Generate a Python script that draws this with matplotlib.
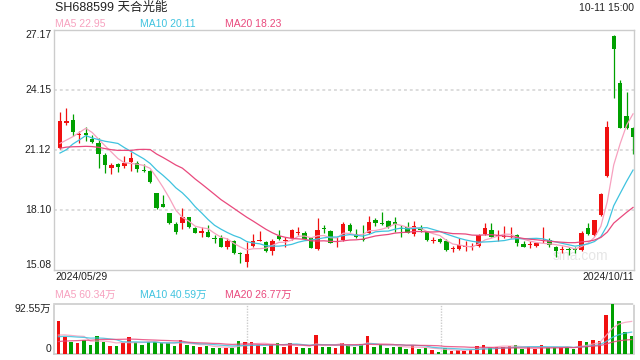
import numpy as np
import matplotlib
matplotlib.use("Agg")
import matplotlib.pyplot as plt

plt.rcParams['font.family'] = ['Liberation Sans', 'Noto Sans CJK SC', 'DejaVu Sans']

title = "SH688599 天合光能"
stamp = "10-11 15:00"
date_first = "2024/05/29"
date_last = "2024/10/11"

# daily candles, 2024/05/29 .. 2024/10/11
opens = [21.21, 22.50, 22.64, 21.90, 22.00, 21.68, 21.46, 20.87, 20.24, 20.42,
         20.34, 20.52, 20.45, 20.12, 20.07, 18.94, 18.39, 17.93, 17.40, 17.43,
         17.73, 17.21, 16.96, 17.01, 16.71, 16.71, 16.25, 16.54, 15.94, 15.50,
         16.29, 16.54, 16.51, 16.05, 16.79, 16.52, 16.67, 16.96, 16.93, 16.67,
         16.14, 17.21, 17.04, 16.51, 16.59, 17.35, 16.88, 16.62, 16.93, 17.60,
         17.46, 17.55, 17.52, 17.21, 17.26, 16.89, 17.21, 17.01, 16.54, 16.62,
         16.54, 16.12, 16.14, 16.25, 16.25, 16.29, 16.88, 17.09, 16.79, 16.72,
         16.74, 16.84, 16.39, 16.34, 16.29, 16.54, 16.59, 16.22, 16.09, 16.12,
         16.12, 16.09, 17.21, 16.84, 17.85, 19.82, 26.87, 24.52, 22.84, 22.25]
highs = [23.06, 23.22, 22.94, 22.08, 22.30, 21.88, 21.71, 20.96, 20.49, 20.45,
         20.82, 21.04, 20.57, 20.42, 20.12, 18.96, 18.86, 17.97, 17.51, 18.19,
         17.77, 17.26, 17.26, 17.35, 16.84, 16.84, 16.67, 16.59, 16.00, 16.51,
         16.88, 17.04, 16.54, 16.62, 17.09, 16.76, 17.13, 17.26, 17.04, 16.76,
         17.72, 17.35, 17.09, 16.76, 17.51, 17.43, 17.13, 17.35, 17.80, 17.72,
         18.02, 17.60, 17.77, 17.35, 17.48, 17.55, 17.35, 17.04, 16.76, 16.67,
         16.62, 16.29, 16.67, 16.54, 16.46, 16.89, 17.46, 17.46, 17.09, 17.30,
         17.26, 16.89, 16.56, 16.54, 16.51, 17.26, 16.67, 16.29, 16.29, 16.25,
         16.25, 17.04, 17.46, 17.60, 18.96, 22.60, 26.92, 24.65, 24.06, 22.30]
lows = [21.16, 22.39, 21.85, 21.46, 21.60, 21.46, 20.24, 19.95, 19.92, 20.03,
        20.24, 20.07, 20.03, 20.03, 19.45, 18.17, 18.24, 17.38, 16.88, 17.13,
        17.18, 16.93, 16.76, 16.72, 16.46, 16.22, 16.12, 15.88, 15.42, 15.25,
        16.22, 16.52, 16.00, 15.84, 16.59, 16.25, 16.59, 16.84, 16.59, 16.17,
        16.09, 16.96, 16.42, 16.22, 16.54, 17.01, 16.67, 16.54, 16.88, 17.30,
        17.35, 17.18, 17.01, 16.76, 16.93, 16.81, 17.01, 16.56, 16.42, 16.46,
        16.04, 16.00, 16.09, 16.04, 16.09, 16.22, 16.82, 16.72, 16.54, 16.67,
        16.67, 16.29, 16.22, 16.17, 16.26, 16.46, 16.22, 15.72, 15.92, 15.84,
        15.92, 16.05, 16.84, 16.79, 17.80, 19.75, 23.73, 22.22, 22.18, 20.91]
closes = [22.59, 22.59, 22.05, 21.95, 21.90, 21.54, 20.91, 20.37, 20.37, 20.28,
          20.49, 20.74, 20.17, 20.07, 19.53, 18.22, 18.25, 17.43, 17.01, 17.77,
          17.26, 16.96, 17.04, 16.76, 16.64, 16.25, 16.54, 15.92, 15.87, 15.88,
          16.54, 16.57, 16.05, 16.56, 16.64, 16.59, 17.09, 17.01, 16.62, 16.20,
          17.09, 17.16, 16.46, 16.56, 17.40, 17.04, 16.76, 16.57, 17.52, 17.46,
          17.38, 17.26, 17.38, 17.16, 16.96, 17.30, 17.09, 16.59, 16.59, 16.51,
          16.09, 16.17, 16.34, 16.29, 16.30, 16.84, 17.21, 16.76, 16.84, 16.79,
          16.79, 16.46, 16.26, 16.39, 16.42, 16.59, 16.34, 16.05, 16.12, 16.09,
          16.09, 16.96, 16.89, 17.58, 18.89, 22.30, 26.20, 22.25, 22.22, 21.76]
# closes of the 19 sessions before the window (feed the moving averages)
prior_closes = [21.40, 21.70, 21.80, 21.60, 21.80, 21.65, 21.70, 21.45, 21.00, 20.40,
                20.90, 19.20, 19.90, 19.70, 22.74, 21.74, 21.20, 20.90, 20.85]

# volume in 万 lots
volumes = [61.1, 32.1, 22.8, 21.0, 25.9, 16.7, 33.3, 22.8, 14.8, 14.8,
           21.0, 31.5, 22.8, 16.7, 22.8, 21.6, 19.7, 21.0, 15.4, 25.9,
           16.7, 14.8, 13.6, 14.8, 11.7, 11.7, 11.7, 11.7, 24.1, 22.8,
           22.2, 16.7, 13.6, 16.7, 21.0, 13.6, 21.0, 13.6, 11.7, 11.7,
           35.2, 13.6, 13.6, 11.7, 21.0, 16.7, 13.6, 17.9, 33.3, 13.6,
           17.9, 11.7, 13.6, 13.6, 8.6, 16.7, 9.9, 11.7, 7.4, 3.7,
           10.5, 6.2, 7.4, 6.2, 7.4, 15.4, 16.7, 13.6, 13.6, 13.6,
           15.5, 16.5, 9.2, 12.3, 9.2, 17.2, 12.3, 12.3, 12.3, 12.7,
           8.5, 24.0, 22.0, 25.5, 24.2, 73.0, 92.55, 62.0, 41.5, 32.65]
prior_volumes = [12, 15, 13, 14, 16, 12, 14, 15, 13, 16,
                 25, 28, 30, 32, 30, 30, 28, 27, 29]

ma_periods = [5, 10, 20]
ma_colors = ['#f7a1bf', '#3fc3df', '#e9497d']
up_color = '#f01010'
down_color = '#00a000'


def moving_avg(prior, values, n):
    full = np.array(prior + values, dtype=float)
    out = np.convolve(full, np.ones(n) / n, mode='valid')
    return out[-len(values):]


o = np.array(opens)
h = np.array(highs)
l = np.array(lows)
c = np.array(closes)
v = np.array(volumes)
x = np.arange(len(c))
up = c >= o
cols = np.where(up, up_color, down_color)

fig = plt.figure(figsize=(6.4, 3.6), dpi=100)
ax = fig.add_axes([54 / 640, 90 / 360, 580 / 640, 240 / 360])
axv = fig.add_axes([54 / 640, 6 / 360, 580 / 640, 50 / 360])

# price panel
ymin, ymax = 15.08, 27.17
yt = np.linspace(ymin, ymax, 5)
for t in yt[1:-1]:
    ax.axhline(t, color='#dddddd', lw=1.4, ls=(0, (1.5, 1.5)), zorder=0)

ax.vlines(x, l, h, colors=cols, lw=0.9, zorder=2)
body = np.maximum(np.abs(c - o), 0.04)
ax.bar(x, body, bottom=np.minimum(o, c), width=0.68, color=cols, zorder=3)

for n, col in zip(ma_periods, ma_colors):
    ax.plot(x, moving_avg(prior_closes, closes, n), color=col, lw=0.9, zorder=4)

ax.set_xlim(-0.93, len(c) - 0.85)
ax.set_ylim(ymin, ymax)
ax.set_xticks([])
ax.set_yticks([])
for s in ax.spines.values():
    s.set_color('#cccccc')
    s.set_linewidth(1.0)

for i, t in enumerate(yt):
    va = 'top' if i == len(yt) - 1 else ('bottom' if i == 0 else 'center')
    ax.text(-0.005, t, f"{t:.2f}", transform=ax.get_yaxis_transform(),
            ha='right', va=va, fontsize=7.5, color='#222222')

ax.text(0.955, 0.06, "sina.com", transform=ax.transAxes, ha='right', va='center',
        fontsize=10, color='#e6e6e6', zorder=1)

fig.text(55 / 640, 1 - 8 / 360, title, ha='left', va='center', fontsize=9, color='#222222')
fig.text(634 / 640, 1 - 8 / 360, stamp, ha='right', va='center', fontsize=7.5, color='#222222')

last_ma = [moving_avg(prior_closes, closes, n)[-1] for n in ma_periods]
for xp, n, col, val in zip([55, 140, 225], ma_periods, ma_colors, last_ma):
    fig.text(xp / 640, 1 - 24 / 360, f"MA{n} {val:.2f}", ha='left', va='center',
             fontsize=7.5, color=col)

fig.text(55 / 640, 1 - 277 / 360, date_first, ha='left', va='center', fontsize=7.5, color='#222222')
fig.text(634 / 640, 1 - 277 / 360, date_last, ha='right', va='center', fontsize=7.5, color='#222222')

# volume panel
vmax = v.max()
axv.bar(x, v, width=0.55, color=cols, zorder=3)
for n, col in zip(ma_periods, ma_colors):
    axv.plot(x, moving_avg(prior_volumes, volumes, n), color=col, lw=0.9, alpha=0.85, zorder=4)
axv.set_xlim(-0.67, len(v) - 0.64)
axv.set_ylim(0, vmax)
axv.set_xticks([])
axv.set_yticks([])
for s in axv.spines.values():
    s.set_color('#cccccc')
    s.set_linewidth(1.2)
    s.set_linestyle((0, (1, 1)))
for frac in [1 / 3, 2 / 3]:
    axv.axvline(axv.get_xlim()[0] + frac * (axv.get_xlim()[1] - axv.get_xlim()[0]),
                color='#cccccc', lw=1.0, ls=(0, (1, 1)), zorder=0)

axv.text(-0.005, 1.0, f"{vmax:.2f}万", transform=axv.transAxes, ha='right', va='top',
         fontsize=7.5, color='#222222')
axv.text(-0.005, 0.0, "0", transform=axv.transAxes, ha='right', va='bottom',
         fontsize=7.5, color='#222222')

last_vma = [moving_avg(prior_volumes, volumes, n)[-1] for n in ma_periods]
for xp, n, col, val in zip([55, 140, 225], ma_periods, ma_colors, last_vma):
    fig.text(xp / 640, 1 - 295 / 360, f"MA{n} {val:.2f}万", ha='left', va='center',
             fontsize=7.5, color=col)

fig.savefig("out.png", dpi=100)
